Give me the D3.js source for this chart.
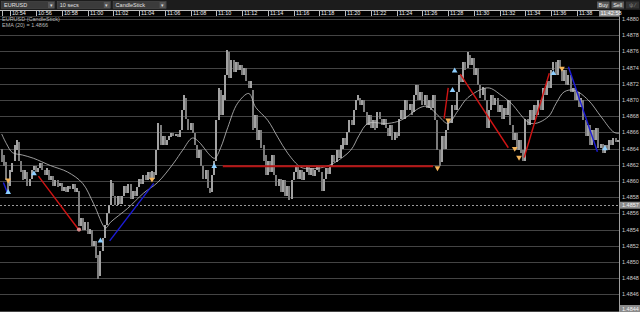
<!DOCTYPE html>
<meta charset="utf-8">
<head>
<title>EURUSD 10 secs</title>
<script src="https://cdn.jsdelivr.net/npm/d3@7"></script>
<style>
body { margin: 0; background: #000; overflow: hidden; }
text { font-family: "Liberation Sans", Arial, sans-serif; }
</style>
</head>
<body>
<div id="chart"></div>
<script>
const width = 640;
const height = 312;

// toolbar
const selectors = ["EURUSD", "10 secs", "CandleStick"];
const buttons = ["Buy", "Sell"];
const clock = "11:42:58";
const legend = ["EURUSD (CandleStick)", "EMA (20) = 1.4866"];

// axes
const timeTicks = ["10:54","10:56","10:58","11:00","11:02","11:04","11:06","11:08","11:10","11:12","11:14","11:16",
  "11:18","11:20","11:22","11:24","11:26","11:28","11:30","11:32","11:34","11:36","11:38"];
const priceTicks = [1.4844,1.4846,1.4848,1.4850,1.4852,1.4854,1.4856,1.4858,1.4860,1.4862,
  1.4864,1.4866,1.4868,1.4870,1.4872,1.4874,1.4876,1.4878,1.4880];
const lastPrice = 1.4857;
const cursorPrice = 1.4844;

// candles, 10 sec each, prices as points above 1.48000
const firstCandle = "10:53:20";
const candleSecs = 10;
const opens = [
  640,632,623,603,594,611,625,638,648,625,613,603,
  611,594,603,613,619,611,616,622,613,607,613,601,
  606,594,601,594,598,588,593,586,594,590,596,586,
  588,544,554,539,549,535,539,520,526,508,482,514,
  529,545,561,570,598,582,570,582,572,581,594,585,
  596,578,588,581,593,603,596,607,601,611,603,611,
  607,638,669,644,656,644,650,654,659,655,658,654,
  663,687,703,677,663,672,659,644,628,638,619,603,
  613,591,586,607,625,675,712,681,700,731,759,727,
  749,734,747,737,743,731,739,724,715,712,665,681,
  650,663,644,632,607,625,611,632,607,594,603,586,
  601,582,594,578,601,611,619,603,613,601,611,618,
  607,616,606,613,619,611,588,603,616,608,619,632,
  623,638,628,640,653,644,660,675,669,687,700,703,
  694,700,685,669,681,665,675,665,685,677,669,677,
  665,656,669,650,660,655,677,687,677,700,687,695,
  685,706,718,700,710,694,706,690,700,690,706,675,
  638,623,656,640,663,677,672,694,687,710,731,722,
  747,739,755,743,752,731,739,718,706,715,700,665,
  687,706,694,702,685,694,677,690,681,700,669,650,
  659,638,650,638,625,677,669,687,675,694,681,700,
  687,715,706,724,715,737,747,731,749,739,724,737,
  718,731,710,715,700,710,691,700,675,656,669,644,
  663,650,665,641,646,635,644,638,650,644,653,648];
const closes = [
  623,619,601,585,613,622,644,650,625,611,601,613,
  594,603,613,619,611,616,622,613,607,616,601,606,
  594,601,592,598,588,593,586,594,590,596,586,591,
  544,554,539,549,535,541,520,526,505,479,514,529,
  545,561,570,601,582,570,582,572,581,594,585,596,
  578,588,581,593,603,596,607,601,611,603,612,603,
  638,672,644,656,644,650,655,659,655,658,654,663,
  687,706,677,663,672,659,644,628,638,619,603,613,
  591,585,607,625,675,715,681,706,731,762,727,749,
  734,747,737,743,731,739,724,715,724,663,681,650,
  663,641,625,607,625,611,632,607,594,603,586,601,
  582,594,576,601,611,619,603,613,601,611,618,607,
  616,606,613,619,611,588,603,616,608,619,632,623,
  638,628,644,653,644,660,675,669,687,700,706,694,
  700,685,669,681,665,675,663,685,677,669,677,665,
  656,669,650,660,653,677,687,677,700,687,695,681,
  706,718,700,710,694,706,690,700,687,706,675,638,
  619,656,640,663,677,672,694,687,710,731,722,747,
  737,759,743,752,731,739,718,703,716,700,665,687,
  706,694,702,685,694,677,690,681,700,669,650,659,
  638,650,634,625,677,669,687,675,694,681,700,687,
  715,706,724,715,737,747,731,749,739,724,737,718,
  731,710,715,700,710,691,702,675,656,669,644,663,
  650,665,641,646,635,644,638,650,644,653,648,651];

// EMA (20) at candle positions
const emaIdx = [0,2.2,5,9.7,14.8,22.7,30.7,37.7,42.8,48.4,50.7,58.6,66.1,72.6,80.1,84.3,88.9,92.7,95.9,99.2,
  102,105.3,109.9,115.1,118.3,123.9,128.6,133.3,139.3,144,150,154.7,162.6,166.4,170.6,179.9,186,195.3,198.6,
  203.2,207.9,212.6,217.2,226.5,232.6,237.3,246.6,254.5,258.3,262,266.7,273.2,279.3,285.3,288.1];
const emaVal = [658,646,635,632,628,619,611,597,572,542,549,566,585,598,622,638,653,646,635,628,
  641,666,696,708,691,675,654,634,617,615,617,622,638,656,671,671,675,691,692,
  681,671,687,703,715,706,696,671,679,696,710,712,700,679,660,659];

// drawn trend lines: [candle, points] -> [candle, points]
const trendFrom = [[0.8,598],[17.1,606],[50.3,526],[103,618],[206.1,677],[213.6,732],[243.4,629],[264,741]];
const trendTo   = [[2.7,585],[35.8,540],[70.8,597],[201,618],[208,715],[236,641],[255.1,733],[277.5,636]];
const trendKind = ["blue","red","blue","level","red","red","red","blue"];

// signal markers
const markIdx = [3,3,15,36,46,70,99,203,208,210,211,239,241,257,261,281];
const markVal = [601,586,609,540,526,602,618,616,675,712,736,640,629,733,739,640];
const markKind = ["sell","buy","buy","exit","buy","sell","buy","sell","sell","buy","buy","sell","sell","buy","sell","buy"];

const parseT = d3.timeParse("%H:%M:%S");
const t0 = parseT(firstCandle);
const at = i => new Date(+t0 + i * candleSecs * 1000);
const pts = v => 1.48 + v / 1e5;

const plotRight = 619.5;
const plotTop = 16;

const x = d3.scaleTime()
  .domain([parseT(timeTicks[0] + ":00"), parseT(timeTicks[timeTicks.length - 1] + ":00")])
  .range([10.3, 577]);
const y = d3.scaleLinear()
  .domain([priceTicks[0], priceTicks[priceTicks.length - 1]])
  .range([310.5, 19]);

const svg = d3.select("#chart").append("svg")
  .attr("width", width)
  .attr("height", height)
  .attr("viewBox", [0, 0, width, height])
  .style("background", "#000");

svg.append("defs").append("clipPath").attr("id", "plot")
  .append("rect").attr("x", 0).attr("y", plotTop).attr("width", plotRight).attr("height", height - plotTop);

// gridlines
svg.append("g")
  .selectAll("line")
  .data(priceTicks)
  .join("line")
    .attr("x1", 0).attr("x2", plotRight)
    .attr("y1", d => Math.round(y(d)) + 0.5).attr("y2", d => Math.round(y(d)) + 0.5)
    .attr("stroke", "#444");

// last price dashed
svg.append("line")
  .attr("x1", 0).attr("x2", plotRight)
  .attr("y1", Math.round(y(lastPrice)) + 0.5).attr("y2", Math.round(y(lastPrice)) + 0.5)
  .attr("stroke", "#9a9a9a").attr("stroke-dasharray", "2,2");

const plot = svg.append("g").attr("clip-path", "url(#plot)");

const candles = opens.map((o, i) => ({t: at(i), o: pts(o), c: pts(closes[i])}));

plot.append("g")
  .selectAll("rect")
  .data(candles)
  .join("rect")
    .attr("x", d => x(d.t) - 1)
    .attr("width", 2)
    .attr("y", d => y(Math.max(d.o, d.c)))
    .attr("height", d => Math.max(1, Math.abs(y(d.o) - y(d.c))))
    .attr("fill", d => d.c >= d.o ? "#a2a2a2" : "#7c7c7c")
    .attr("shape-rendering", "crispEdges");

// EMA
const ema = emaIdx.map((k, i) => [x(at(k)), y(pts(emaVal[i]))]);
plot.append("path")
  .attr("d", d3.line().curve(d3.curveCatmullRom)(ema))
  .attr("fill", "none")
  .attr("stroke", "#c4c4c4")
  .attr("stroke-width", 0.8);

// trend lines
const trendColor = {red: "#d01414", blue: "#1c1cd8", level: "#b81414"};
plot.append("g")
  .selectAll("line")
  .data(trendKind.map((k, i) => ({k, a: trendFrom[i], b: trendTo[i]})))
  .join("line")
    .attr("x1", d => x(at(d.a[0]))).attr("y1", d => y(pts(d.a[1])))
    .attr("x2", d => x(at(d.b[0]))).attr("y2", d => y(pts(d.b[1])))
    .attr("stroke", d => trendColor[d.k])
    .attr("stroke-width", d => d.k === "level" ? 2 : 1.4);

// markers
const marks = markIdx.map((k, i) => ({x: x(at(k)), y: y(pts(markVal[i])), kind: markKind[i]}));
const tri = d3.symbol(d3.symbolTriangle, 14);
plot.append("g")
  .selectAll("path")
  .data(marks)
  .join("path")
    .attr("d", d => d.kind === "exit" ? d3.symbol(d3.symbolCircle, 14)() : tri())
    .attr("transform", d => `translate(${d.x},${d.y})` + (d.kind === "sell" ? " rotate(180)" : ""))
    .attr("fill", d => d.kind === "buy" ? "#8ecfff" : d.kind === "sell" ? "#f4b45a" : "#d88a8a");

// legend
svg.append("g")
  .selectAll("text")
  .data(legend)
  .join("text")
    .attr("x", 2)
    .attr("y", (d, i) => 21 + i * 5.5)
    .attr("fill", "#b8b8b8")
    .style("font-size", "5.5px")
    .text(d => d);

// right price axis
svg.append("rect").attr("x", plotRight).attr("y", plotTop).attr("width", width - plotRight).attr("height", height - plotTop).attr("fill", "#000");
svg.append("line")
  .attr("x1", plotRight).attr("x2", plotRight).attr("y1", 10).attr("y2", height)
  .attr("stroke", "#a0a0a0");
svg.append("g")
  .selectAll("text")
  .data(priceTicks.filter(d => d !== cursorPrice))
  .join("text")
    .attr("x", 622)
    .attr("y", d => y(d) + 2)
    .attr("fill", "#cfcfcf")
    .style("font-size", "5.5px")
    .text(d => d3.format(".4f")(d));

const tags = svg.append("g")
  .selectAll("g")
  .data([lastPrice, cursorPrice])
  .join("g")
    .attr("transform", d => `translate(${plotRight + 0.5},${Math.min(y(d) - 3.5, height - 7)})`);
tags.append("rect").attr("width", width - plotRight).attr("height", 7).attr("fill", "#8a8a8a");
tags.append("text").attr("x", 2).attr("y", 5.5).attr("fill", "#f4f4f4").style("font-size", "5.5px")
  .text(d => d3.format(".4f")(d));

// toolbar
svg.append("rect").attr("width", width).attr("height", 10).attr("fill", "#1c1c1c");
const sel = svg.append("g")
  .selectAll("g")
  .data(selectors)
  .join("g")
    .attr("transform", (d, i) => `translate(${1.5 + i * 55.8},1.5)`);
sel.append("rect").attr("width", 53).attr("height", 7).attr("fill", "#3b3b3b").attr("stroke", "#555").attr("stroke-width", 0.5);
sel.append("rect").attr("x", 46.5).attr("y", 0.5).attr("width", 6).attr("height", 6).attr("fill", "#555");
sel.append("text").attr("x", 49.5).attr("y", 5.3).attr("text-anchor", "middle").attr("fill", "#ddd").style("font-size", "5px").text("▾");
sel.append("text").attr("x", 2.5).attr("y", 5.5).attr("fill", "#e2e2e2").style("font-size", "5.5px").text(d => d);

const btn = svg.append("g")
  .selectAll("g")
  .data(buttons)
  .join("g")
    .attr("transform", (d, i) => `translate(${597 + i * 14.5},1.5)`);
btn.append("rect").attr("width", 12.5).attr("height", 7).attr("fill", "#585858");
btn.append("text").attr("x", 6.25).attr("y", 5.5).attr("text-anchor", "middle").attr("fill", "#f0f0f0").style("font-size", "5.5px").text(d => d);
svg.append("rect").attr("x", 626).attr("y", 1.5).attr("width", 13).attr("height", 7).attr("fill", "#333");
svg.append("text").attr("x", 632.5).attr("y", 7).attr("text-anchor", "middle").attr("fill", "#888").style("font-size", "5.5px").text("ψ ⁄");

// time axis row
svg.append("rect").attr("y", 10).attr("width", plotRight).attr("height", 6).attr("fill", "#000");
svg.append("line").attr("x1", 0).attr("x2", plotRight).attr("y1", 10.5).attr("y2", 10.5).attr("stroke", "#bdbdbd");
svg.append("line").attr("x1", 0).attr("x2", plotRight).attr("y1", 16.5).attr("y2", 16.5).attr("stroke", "#333");
const tick = svg.append("g")
  .selectAll("g")
  .data(timeTicks)
  .join("g")
    .attr("transform", d => `translate(${Math.round(x(parseT(d + ":00"))) + 0.5},10)`);
tick.append("line").attr("y1", 0).attr("y2", 6).attr("stroke", "#bdbdbd");
tick.append("text").attr("x", 1.5).attr("y", 5.3).attr("fill", "#f0f0f0").style("font-size", "5.5px").text(d => d);
svg.append("line").attr("x1", 2.5).attr("x2", 2.5).attr("y1", 10).attr("y2", 16).attr("stroke", "#bdbdbd");

svg.append("rect").attr("x", 599).attr("y", 10).attr("width", plotRight - 599).attr("height", 6.5).attr("fill", "#8c8c8c");
svg.append("text").attr("x", 600.5).attr("y", 15.3).attr("fill", "#fff").style("font-size", "5.5px").text(clock);
</script>
</body>
